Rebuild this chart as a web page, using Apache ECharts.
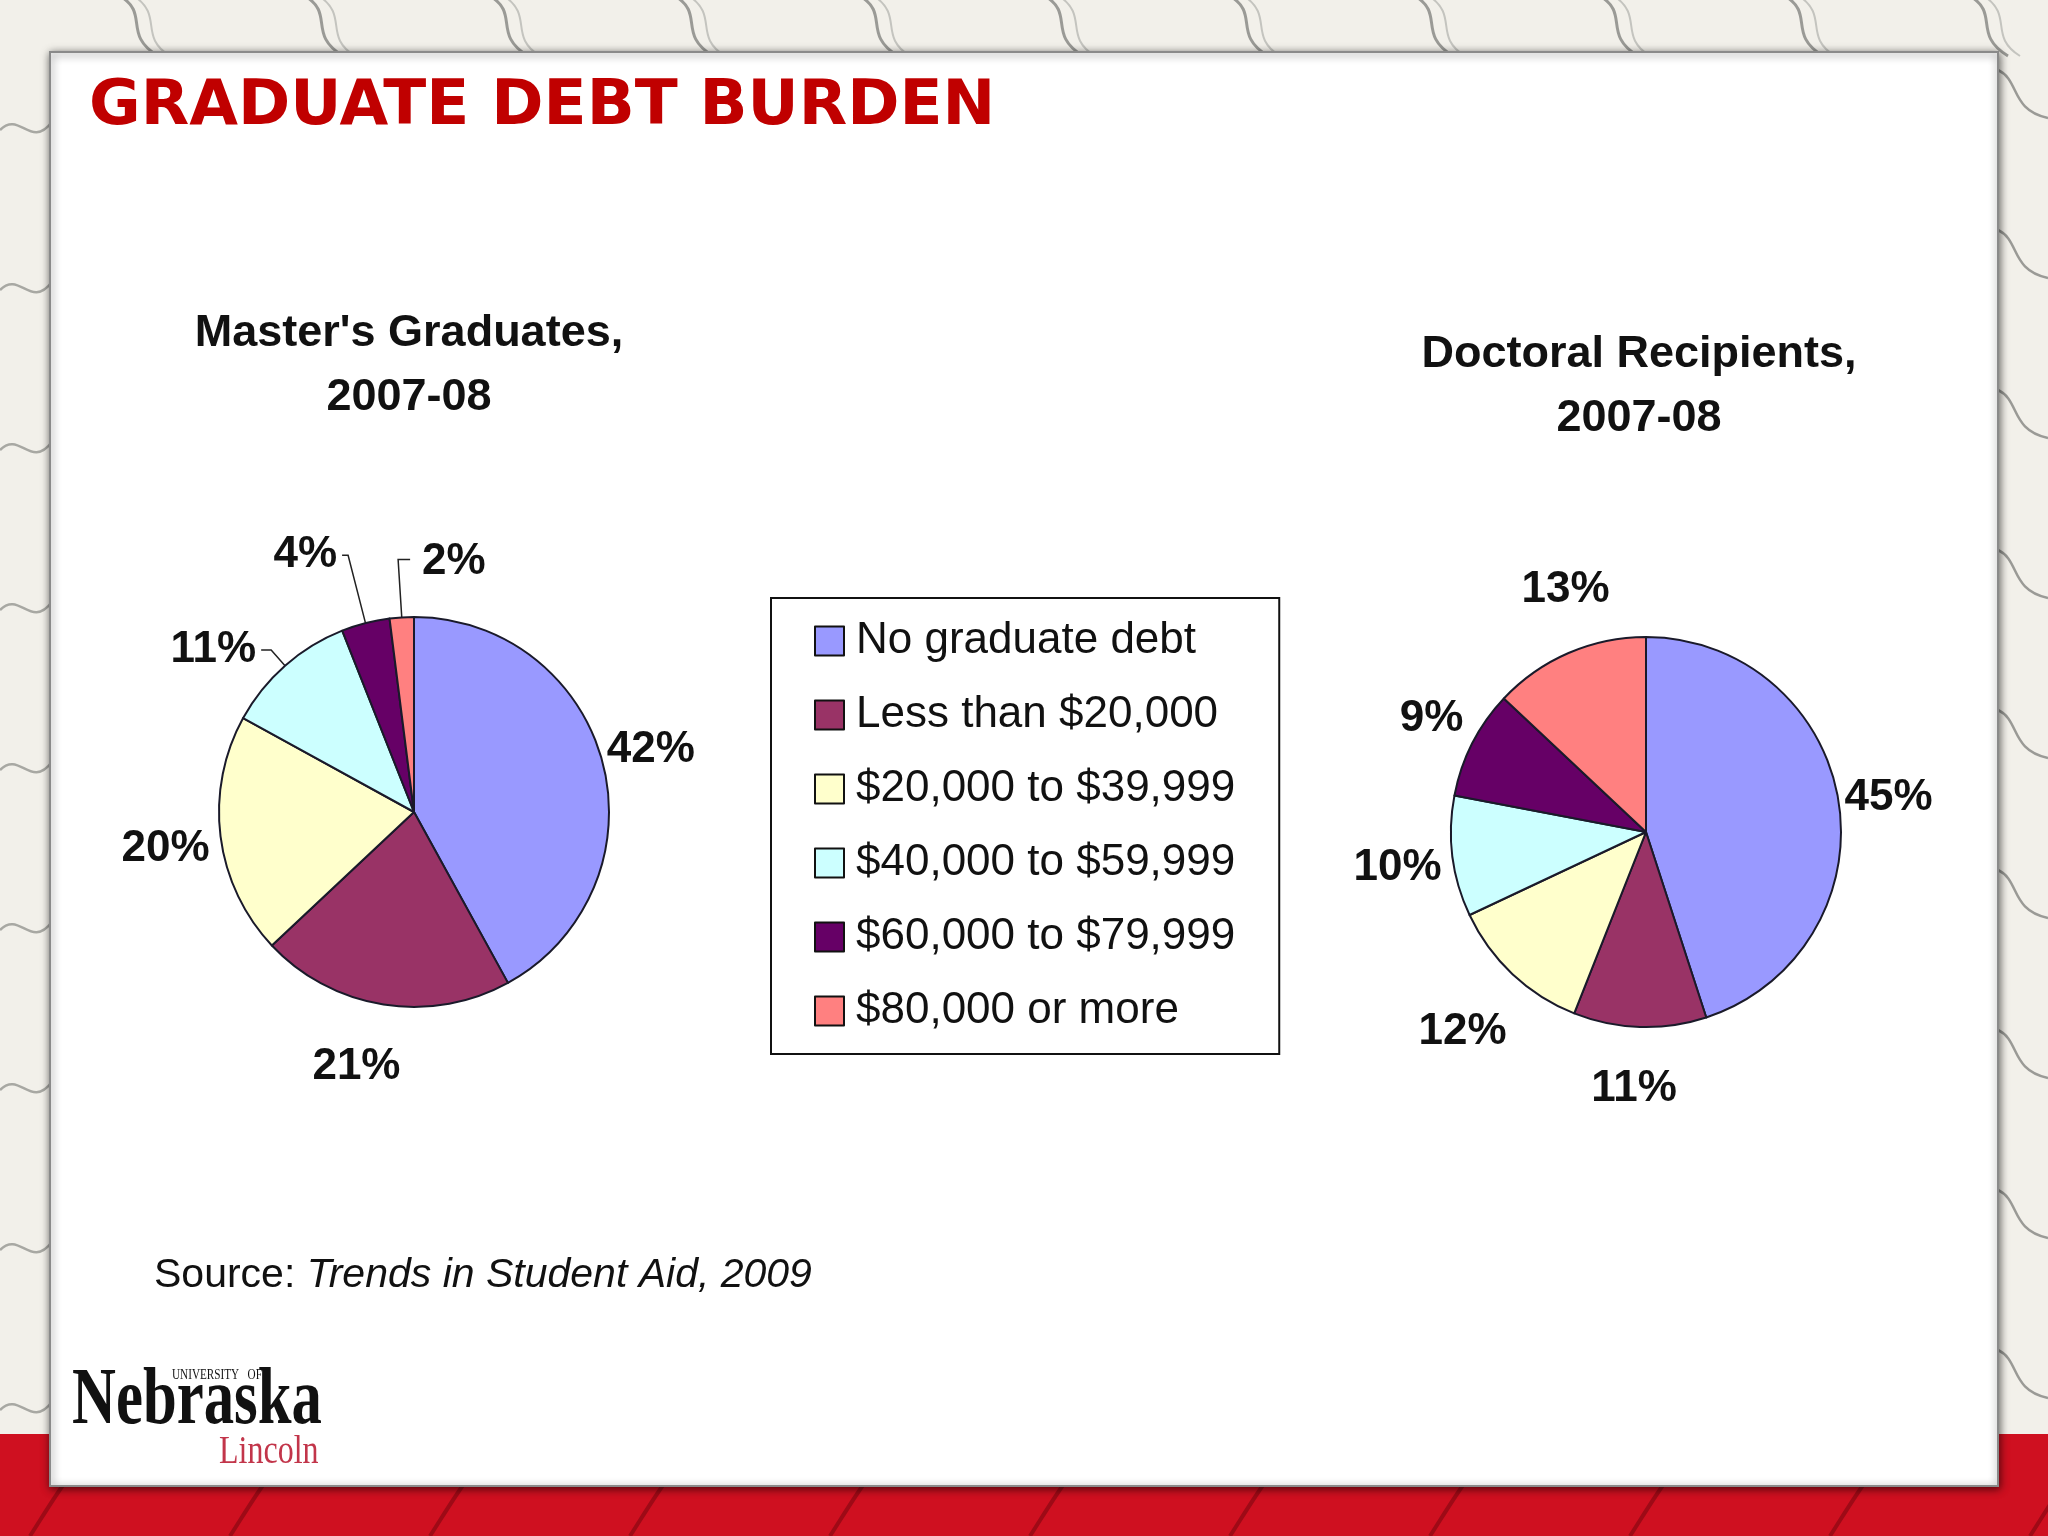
<!DOCTYPE html>
<html><head><meta charset="utf-8">
<script src="https://cdn.jsdelivr.net/npm/echarts@6/dist/echarts.min.js"></script>
<style>html,body{margin:0;padding:0;background:#f2f0ea}#c{width:2048px;height:1536px}</style>
</head><body><div id="c"></div>
<script>
// ---- data ----
const categories = ['No graduate debt', 'Less than $20,000', '$20,000 to $39,999', '$40,000 to $59,999', '$60,000 to $79,999', '$80,000 or more'];
const mastersValues = [42, 21, 20, 11, 4, 2];
const doctoralValues = [45, 11, 12, 10, 9, 13];
const slideTitle = 'GRADUATE DEBT BURDEN';
const mastersTitle = "Master's Graduates,\n2007-08";
const doctoralTitle = "Doctoral Recipients,\n2007-08";
const sourcePrefix = 'Source: ';
const sourceTitle = 'Trends in Student Aid, 2009';

// ---- styles ----
const sliceColors = ['#9999FF', '#993366', '#FFFFCC', '#CCFFFF', '#660066', '#FF8080'];
const mastersLeaders = [null, null, null, [21, 10], [70, 6], [58, 12]];
const mastersNudge = [[-1, -14], [22, 62], [-6, 12], null, null, null];
const mastersFlip = [false, false, false, false, false, true];
const doctoralLeaders = [null, null, null, null, null, null];
const doctoralNudge = [[1, -4], [42, 62], [-1, 58], [-6, 11], [-4, -25], [46, -63]];
const doctoralFlip = [false, false, false, false, false, false];

function makeSeries(name, values, center, leaders, nudges, flips) {
  return {
    type: 'pie', name: name, center: center, radius: 195, startAngle: 90, clockwise: true,
    avoidLabelOverlap: false, animation: false,
    itemStyle: { borderColor: '#1a1a2a', borderWidth: 2 },
    label: { show: true, position: 'outside', formatter: '{c}%', fontFamily: 'Liberation Sans, Arial, sans-serif',
      fontWeight: 'bold', fontSize: 44, color: '#111', distanceToLabelLine: 5 },
    labelLine: { show: false, length: 0, length2: 0, smooth: false, lineStyle: { color: '#222', width: 1.5 } },
    emphasis: { disabled: true },
    data: values.map(function (v, i) {
      return {
        value: v, name: categories[i], itemStyle: { color: sliceColors[i] },
        labelLine: leaders[i] ? { show: true, length: leaders[i][0], length2: leaders[i][1] } : { show: false, length: 0, length2: 0 }
      };
    }),
    labelLayout: function (p) {
      const i = p.dataIndex;
      const r = p.labelRect;
      if (flips[i] && p.labelLinePoints) {
        const pts = p.labelLinePoints;
        const back = Math.abs(pts[1][0] - pts[2][0]);
        const np = [pts[0].slice(), pts[1].slice(), [pts[1][0] + back, pts[1][1]]];
        return { x: pts[1][0] + back + 12, y: pts[1][1] + 2, align: 'left', labelLinePoints: np };
      }
      const n = nudges[i];
      if (!n) return {};
      const right = p.align ? p.align === 'right' : (r.x + r.width / 2 < center[0]);
      return { x: (right ? r.x + r.width : r.x) + n[0], y: r.y + r.height / 2 + n[1] };
    }
  };
}

// ---- decorative slide background (not data) ----
const deco = [];
for (let x = 120; x < 2048; x += 185) {
  deco.push({ type: 'bezierCurve', shape: { x1: x, y1: -4, cpx1: x + 30, cpy1: 14, cpx2: x + 2, cpy2: 34, x2: x + 38, y2: 56 },
    style: { stroke: '#9a9a96', lineWidth: 3, fill: null } });
  deco.push({ type: 'bezierCurve', shape: { x1: x + 14, y1: -4, cpx1: x + 44, cpy1: 16, cpx2: x + 18, cpy2: 36, x2: x + 50, y2: 56 },
    style: { stroke: '#c4c4bf', lineWidth: 2, fill: null } });
}
for (let y = 70; y < 1430; y += 160) {
  deco.push({ type: 'bezierCurve', shape: { x1: 1998, y1: y, cpx1: 2020, cpy1: y + 10, cpx2: 2010, cpy2: y + 40, x2: 2048, y2: y + 48 },
    style: { stroke: '#9a9a96', lineWidth: 2.5, fill: null } });
  deco.push({ type: 'bezierCurve', shape: { x1: 0, y1: y + 60, cpx1: 20, cpy1: y + 40, cpx2: 30, cpy2: y + 80, x2: 52, y2: y + 52 },
    style: { stroke: '#a8a8a3', lineWidth: 2.5, fill: null } });
}
const bandDeco = [];
for (let x = 30; x < 2048; x += 200) {
  bandDeco.push({ type: 'bezierCurve', shape: { x1: x, y1: 1536, cpx1: x + 20, cpy1: 1505, cpx2: x + 40, cpy2: 1470, x2: x + 70, y2: 1440 },
    style: { stroke: '#9e0a16', lineWidth: 4, fill: null } });
}

const chart = echarts.init(document.getElementById('c'), null, { renderer: 'canvas' });
chart.setOption({
  backgroundColor: '#f2f0ea',
  animation: false,
  graphic: [].concat(deco, [
    { type: 'rect', shape: { x: 0, y: 1434, width: 2048, height: 102 }, style: { fill: '#cf1020' } }
  ], bandDeco, [
    { type: 'rect', shape: { x: 50, y: 52, width: 1948, height: 1434 },
      style: { fill: '#ffffff', stroke: '#8a8a8a', lineWidth: 2, shadowBlur: 8, shadowColor: 'rgba(0,0,0,0.6)', shadowOffsetX: 1, shadowOffsetY: 2 } },
    { type: 'text', x: 89, y: 108, style: { text: slideTitle, fill: '#c00000', fontSize: 63, fontWeight: 'bold',
      fontFamily: 'DejaVu Sans', align: 'left', verticalAlign: 'middle' } },
    { type: 'text', x: 409, y: 302, style: { text: mastersTitle, fill: '#111', fontSize: 45, fontWeight: 'bold',
      fontFamily: 'Liberation Sans', lineHeight: 64, align: 'center', verticalAlign: 'top' } },
    { type: 'text', x: 1639, y: 323, style: { text: doctoralTitle, fill: '#111', fontSize: 45, fontWeight: 'bold',
      fontFamily: 'Liberation Sans', lineHeight: 64, align: 'center', verticalAlign: 'top' } },
    { type: 'text', x: 154, y: 1276, style: { text: '{a|' + sourcePrefix + '}{b|' + sourceTitle + '}', fill: '#111',
      fontSize: 41, fontFamily: 'Liberation Sans', align: 'left', verticalAlign: 'middle',
      rich: { a: { fontSize: 41, fontFamily: 'Liberation Sans', fill: '#111' }, b: { fontSize: 41, fontFamily: 'Liberation Sans', fontStyle: 'italic', fill: '#111' } } } },
    { type: 'text', x: 72, y: 1402, scaleX: 0.76, style: { text: 'Nebraska', fill: '#111', fontSize: 80, fontWeight: 'bold',
      fontFamily: 'Liberation Serif', align: 'left', verticalAlign: 'middle' } },
    { type: 'text', x: 172, y: 1375, scaleX: 0.8, style: { text: 'UNIVERSITY   OF', fill: '#111', fontSize: 14,
      fontFamily: 'Liberation Serif', align: 'left', verticalAlign: 'middle' } },
    { type: 'text', x: 219, y: 1452, scaleX: 0.8, style: { text: 'Lincoln', fill: '#c2354a', fontSize: 40,
      fontFamily: 'Liberation Serif', align: 'left', verticalAlign: 'middle' } }
  ]),
  legend: {
    data: categories, orient: 'vertical', left: 771, top: 598,
    padding: [21, 44, 21, 43], itemWidth: 29, itemHeight: 29, itemGap: 30,
    backgroundColor: '#ffffff', borderColor: '#111', borderWidth: 2, borderRadius: 0,
    icon: 'rect', selectedMode: false,
    itemStyle: { borderColor: '#111', borderWidth: 2 },
    textStyle: { fontSize: 44, fontFamily: 'Liberation Sans', color: '#111', lineHeight: 44, padding: [0, 0, 0, 7] }
  },
  series: [
    makeSeries("Master's Graduates", mastersValues, [414, 812], mastersLeaders, mastersNudge, mastersFlip),
    makeSeries('Doctoral Recipients', doctoralValues, [1646, 832], doctoralLeaders, doctoralNudge, doctoralFlip)
  ]
});
</script>
</body></html>
